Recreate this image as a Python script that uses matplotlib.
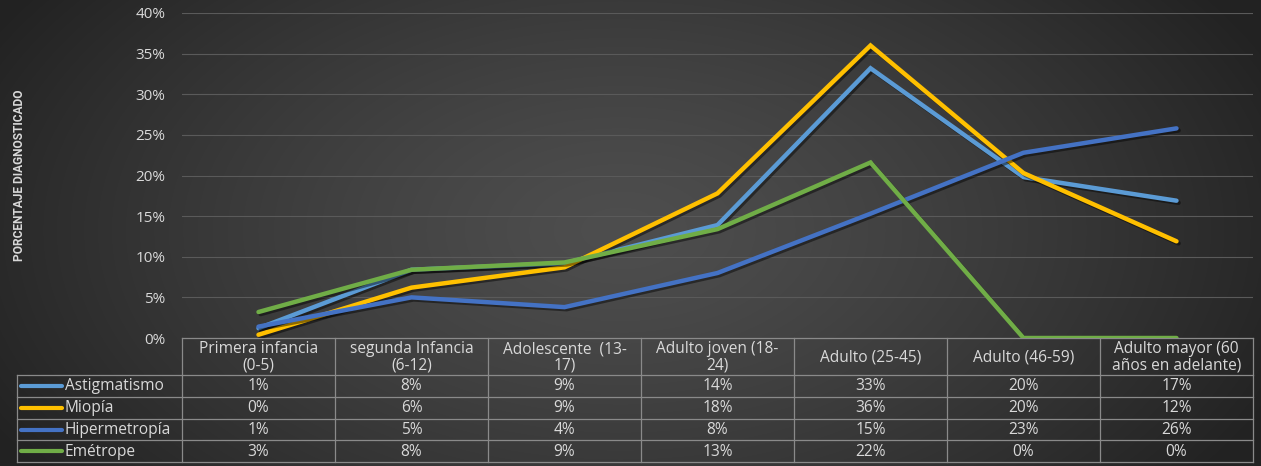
import numpy as np
import matplotlib
matplotlib.use("Agg")
import matplotlib.pyplot as plt
import matplotlib.patheffects as pe

categories = ["Primera infancia\n(0-5)", "segunda Infancia\n(6-12)", "Adolescente  (13-\n17)",
              "Adulto joven (18-\n24)", "Adulto (25-45)", "Adulto (46-59)",
              "Adulto mayor (60\naños en adelante)"]
series_names = ["Astigmatismo", "Miopía", "Hipermetropía", "Emétrope"]
astigmatismo = [1.2, 8.4, 9.2, 13.9, 33.2, 19.8, 16.9]
miopia = [0.4, 6.2, 8.7, 17.8, 36.0, 20.3, 11.9]
hipermetropia = [1.4, 5.0, 3.8, 8.0, 15.3, 22.8, 25.8]
emetrope = [3.2, 8.4, 9.3, 13.4, 21.6, 0.0, 0.0]
y_ticks = [0, 5, 10, 15, 20, 25, 30, 35, 40]
colors = ["#5B9BD5", "#FFC000", "#4472C4", "#70AD47"]
series = [astigmatismo, miopia, hipermetropia, emetrope]

W, H = 1261, 466
fig = plt.figure(figsize=(W / 100, H / 100), dpi=100)
font = "Open Sans"
txt_col = "#d9d9d9"
fs = 11.2

# background axes in pixel coords
bg = fig.add_axes([0, 0, 1, 1], zorder=0)
bg.set_xlim(0, W)
bg.set_ylim(H, 0)
bg.axis("off")
yy, xx = np.mgrid[0:H, 0:W]
r = np.sqrt(((xx - 620) / 720.0) ** 2 + ((yy - 230) / 420.0) ** 2)
r = np.clip(r, 0, 1)
c0 = np.array([0x4e, 0x4e, 0x4e]) / 255
c1 = np.array([0x22, 0x22, 0x22]) / 255
img = c0[None, None, :] * (1 - r[..., None] ** 1.3) + c1[None, None, :] * (r[..., None] ** 1.3)
bg.imshow(img, extent=(0, W, H, 0), aspect="auto", zorder=0)

# main chart axes
x0, x1, y0, y1 = 182, 1253, 338, 13
ax = fig.add_axes([x0 / W, (H - y0) / H, (x1 - x0) / W, (y0 - y1) / H], zorder=2)
ax.patch.set_alpha(0)
n = len(categories)
xs = np.arange(n)
for vals, col in zip(series, colors):
    ax.plot(xs, vals, color=col, lw=3.2, solid_capstyle="round", solid_joinstyle="miter", zorder=3,
            path_effects=[pe.SimpleLineShadow(offset=(1.5, -1.5), shadow_color="black", alpha=0.45),
                          pe.Normal()])
ax.set_xlim(-0.5, n - 0.5)
ax.set_ylim(0, 40)
ax.set_yticks(y_ticks)
ax.set_yticklabels([f"{t}%" for t in y_ticks], fontsize=fs - 0.2, color=txt_col, family=font)
ax.set_xticks([])
ax.tick_params(axis="y", length=0, pad=12)
for s in ax.spines.values():
    s.set_visible(False)
ax.grid(axis="y", color="#5a5a5a", lw=0.8)
ax.set_axisbelow(True)

fig.text(20 / W, 1 - 175.5 / H, "PORCENTAJE DIAGNOSTICADO", rotation=90, ha="center", va="center",
         fontsize=8.6, fontweight="bold", color=txt_col, family="Roboto")

# table
line_col = "#8a8a8a"
col_w = (x1 - x0) / n
hdr_top, hdr_bot = 338, 375
row_h = 21.8
leg_x = 17
nrows = len(series)
bottom = hdr_bot + nrows * row_h
lw = 0.9
bg.plot([x0, x1], [hdr_top, hdr_top], color=line_col, lw=lw, zorder=2)
for i in range(n + 1):
    bg.plot([x0 + i * col_w] * 2, [hdr_top, bottom], color=line_col, lw=lw, zorder=2)
for j in range(nrows + 1):
    bg.plot([leg_x, x1], [hdr_bot + j * row_h] * 2, color=line_col, lw=lw, zorder=2)
bg.plot([leg_x, leg_x], [hdr_bot, bottom], color=line_col, lw=lw, zorder=2)

for i, cat in enumerate(categories):
    bg.text(x0 + (i + 0.5) * col_w, (hdr_top + hdr_bot) / 2 + 0.5, cat, ha="center", va="center",
            fontsize=fs, color=txt_col, family=font, linespacing=1.0, zorder=3)

for j, (name, vals, col) in enumerate(zip(series_names, series, colors)):
    yc = hdr_bot + (j + 0.5) * row_h
    bg.plot([21, 62], [yc, yc], color=col, lw=3, solid_capstyle="round", zorder=3)
    bg.text(65, yc + 0.5, name, ha="left", va="center", fontsize=fs, color=txt_col, family=font, zorder=3)
    for i, v in enumerate(vals):
        bg.text(x0 + (i + 0.5) * col_w, yc + 0.5, f"{v:.0f}%", ha="center", va="center",
                fontsize=fs, color=txt_col, family=font, zorder=3)

fig.savefig("out.png", dpi=100)
